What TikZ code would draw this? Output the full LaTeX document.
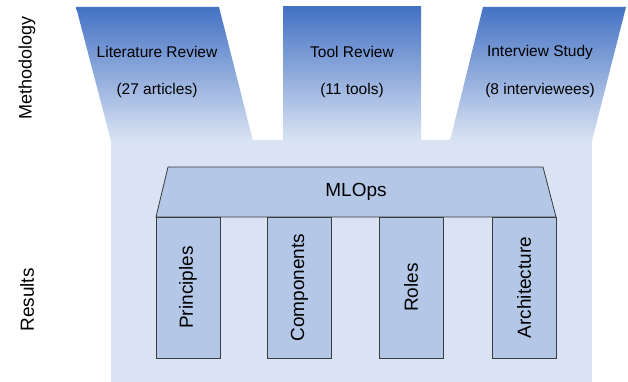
\documentclass[tikz,border=0pt]{standalone}
\usepackage{fontspec}
\setmainfont{Liberation Sans}
\definecolor{bgblue}{HTML}{DAE3F3}
\definecolor{topblue}{HTML}{4472C4}
\definecolor{pillarblue}{HTML}{B4C7E7}
\definecolor{edgegray}{HTML}{3A3A3A}
\tikzset{
  funnel/.style={top color=topblue, bottom color=bgblue, draw=none},
  methodtext/.style={font=\fontsize{15.5}{18}\selectfont, align=center, inner sep=0pt},
  pillar/.style={draw=edgegray, line width=0.8pt, fill=pillarblue, rotate=90,
    minimum width=141pt, minimum height=64pt, inner sep=0pt,
    font=\fontsize{19}{22}\selectfont},
  roof/.style={draw=edgegray, line width=0.8pt, fill=pillarblue},
  sidelabel/.style={rotate=90, font=\fontsize{18}{21}\selectfont, inner sep=0pt}
}
\begin{document}
\begin{tikzpicture}[x=1pt,y=-1pt]
\useasboundingbox (0,0) rectangle (628,382);
% background
\fill[bgblue] (111,140.5) rectangle (592,382);
% methodology shapes
\shade[funnel] (76,7) -- (219,7) -- (253,141) -- (111,141) -- cycle;
\shade[funnel] (283,7) -- (421,7) -- (421,141) -- (283,141) -- cycle;
\shade[funnel] (483,7) -- (626,7) -- (592,141) -- (450,141) -- cycle;
\node[methodtext] (lit) at (157,52) {Literature Review};
\node[methodtext] (litn) at (157,90) {(27 articles)};
\node[methodtext] (tool) at (352,52) {Tool Review};
\node[methodtext] (tooln) at (352,90) {(11 tools)};
\node[methodtext] (int) at (540,52) {Interview Study};
\node[methodtext] (intn) at (540,90) {(8 interviewees)};
% roof
\draw[roof] (168,167) -- (543,167) -- (556,217) -- (156,217) -- cycle;
\node[font=\fontsize{19}{22}\selectfont, inner sep=0pt] (mlops) at (356,192) {MLOps};
% pillars
\node[pillar] (p1) at (188,287.5) {Principles};
\node[pillar] (p2) at (299.5,287.5) {Components};
\node[pillar] (p3) at (411,287.5) {Roles};
\node[pillar] (p4) at (524,287.5) {Architecture};
% side labels
\node[sidelabel] (meth) at (27,68) {Methodology};
\node[sidelabel, font=\fontsize{19}{22}\selectfont] (res) at (27,300) {Results};
\end{tikzpicture}
\end{document}
